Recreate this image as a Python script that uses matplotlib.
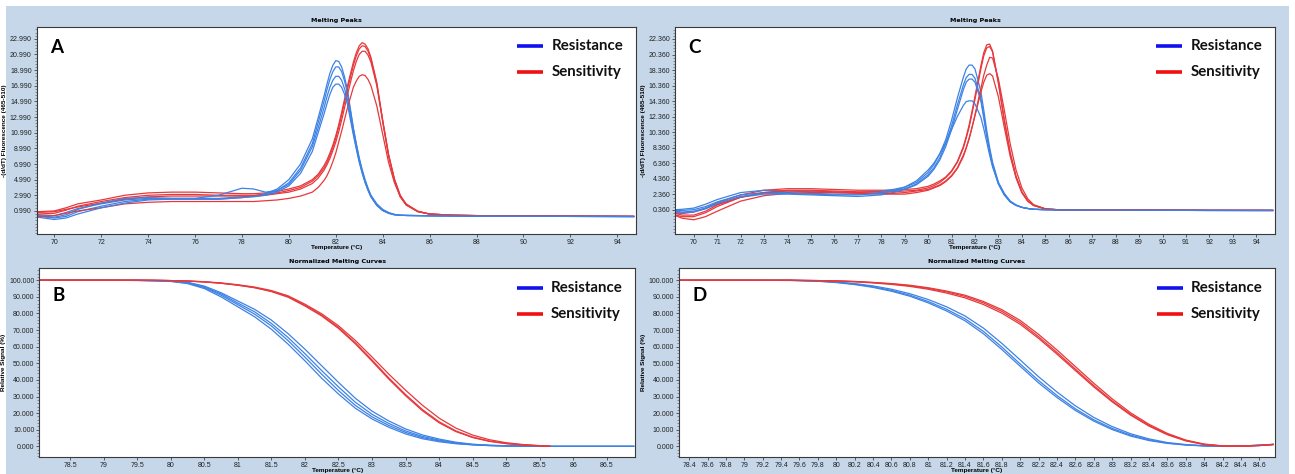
import matplotlib
matplotlib.use("Agg")
import matplotlib.pyplot as plt
from matplotlib.patches import Rectangle
from matplotlib.ticker import FixedLocator, AutoMinorLocator

# ---- data ----
# panel A: melting peaks, -(d/dT) fluorescence
temp_a = [69.3, 70, 70.5, 71, 72, 73, 74, 75, 76, 77, 78, 78.5, 79, 79.5, 80, 80.5, 81, 81.25, 81.5,
          81.625, 81.75, 81.875, 82, 82.125, 82.25, 82.375, 82.5, 82.75, 82.875, 83, 83.125, 83.25, 83.375,
          83.5, 83.75, 84, 84.25, 84.5, 84.75, 85, 85.5, 86, 87, 88, 90, 92, 94.7]
res_a = [
    [0.5, 0.4, 0.8, 1.3, 1.9, 2.4, 2.6, 2.6, 2.6, 2.6, 2.8, 2.9, 3.2, 3.8, 5.0, 7.0, 10.2, 12.9, 15.7,
     17.2, 18.6, 19.6, 20.2, 20.1, 19.4, 18.1, 16.4, 11.6, 9.6, 7.8, 6.3, 5.0, 3.9,
     3.0, 1.9, 1.2, 0.8, 0.55, 0.45, 0.42, 0.4, 0.38, 0.36, 0.34, 0.32, 0.3, 0.28],
    [0.3, 0.1, 0.3, 0.9, 1.6, 2.2, 2.5, 2.5, 2.5, 2.5, 2.7, 2.9, 3.1, 3.6, 4.6, 6.5, 9.6, 12.3, 15.0,
     16.5, 17.8, 18.8, 19.4, 19.4, 18.8, 17.6, 16.0, 11.5, 9.5, 7.6, 6.1, 4.8, 3.8,
     2.9, 1.8, 1.1, 0.75, 0.55, 0.45, 0.42, 0.4, 0.38, 0.36, 0.34, 0.32, 0.3, 0.28],
    [0.4, 0.2, 0.5, 1.2, 2.0, 2.6, 2.7, 2.6, 2.6, 3.0, 3.9, 3.8, 3.4, 3.6, 4.4, 6.2, 9.2, 11.6, 14.2,
     15.6, 16.8, 17.7, 18.2, 18.2, 17.7, 16.6, 15.2, 11.0, 9.1, 7.4, 6.0, 4.7, 3.7,
     2.8, 1.7, 1.05, 0.7, 0.5, 0.45, 0.42, 0.4, 0.38, 0.36, 0.34, 0.32, 0.3, 0.28],
    [0.2, -0.1, 0.1, 0.6, 1.4, 2.0, 2.4, 2.5, 2.5, 2.5, 2.7, 2.8, 3.0, 3.4, 4.2, 5.8, 8.6, 11.0, 13.4,
     14.7, 15.9, 16.8, 17.2, 17.2, 16.8, 15.9, 14.6, 10.7, 8.9, 7.2, 5.8, 4.6, 3.6,
     2.8, 1.7, 1.05, 0.7, 0.5, 0.45, 0.42, 0.4, 0.38, 0.36, 0.34, 0.32, 0.3, 0.28],
]
sen_a = [
    [0.9, 1.0, 1.4, 1.9, 2.4, 3.0, 3.3, 3.4, 3.4, 3.3, 3.2, 3.2, 3.3, 3.5, 3.8, 4.2, 5.0, 5.7, 6.8,
     7.5, 8.4, 9.4, 10.6, 12.0, 13.6, 15.3, 17.0, 20.0, 21.2, 22.1, 22.5, 22.3, 21.7,
     20.6, 17.4, 12.6, 8.2, 5.0, 2.9, 1.8, 0.9, 0.6, 0.45, 0.4, 0.36, 0.33, 0.3],
    [0.6, 0.7, 1.1, 1.6, 2.2, 2.7, 3.0, 3.1, 3.1, 3.0, 3.0, 3.0, 3.1, 3.3, 3.6, 4.0, 4.8, 5.5, 6.5,
     7.2, 8.1, 9.1, 10.3, 11.7, 13.2, 14.9, 16.6, 19.6, 20.8, 21.7, 22.1, 22.0, 21.4,
     20.4, 17.2, 12.4, 8.0, 4.9, 2.8, 1.75, 0.9, 0.6, 0.45, 0.4, 0.36, 0.33, 0.3],
    [0.8, 0.9, 1.2, 1.5, 2.0, 2.5, 2.8, 2.9, 2.9, 2.9, 2.9, 2.9, 3.0, 3.2, 3.4, 3.8, 4.5, 5.2, 6.2,
     6.9, 7.7, 8.7, 9.8, 11.1, 12.6, 14.2, 15.9, 18.9, 20.1, 21.0, 21.4, 21.4, 20.9,
     20.0, 17.0, 12.5, 8.2, 5.1, 3.0, 1.9, 0.95, 0.6, 0.45, 0.4, 0.36, 0.33, 0.3],
    [0.3, 0.4, 0.7, 1.0, 1.4, 1.9, 2.1, 2.2, 2.2, 2.2, 2.2, 2.2, 2.3, 2.4, 2.6, 2.9, 3.4, 4.0, 4.9,
     5.5, 6.3, 7.3, 8.4, 9.8, 11.2, 12.7, 14.2, 16.8, 17.6, 18.2, 18.4, 18.3, 17.8,
     17.0, 14.4, 10.8, 7.2, 4.6, 2.8, 1.8, 0.95, 0.6, 0.45, 0.4, 0.36, 0.33, 0.3],
]

# panel C: melting peaks, second assay
temp_c = [69.25, 69.5, 70, 70.5, 71, 72, 73, 74, 75, 76, 77, 78, 78.5, 79, 79.5, 80, 80.25, 80.5, 80.75, 81,
          81.25, 81.5, 81.625, 81.75, 81.875, 82, 82.25, 82.375, 82.5, 82.625, 82.75, 83, 83.25, 83.5, 83.75,
          84, 84.25, 84.5, 85, 85.5, 86, 88, 90, 92, 94.7]
res_c = [
    [0.4, 0.45, 0.6, 1.1, 1.7, 2.6, 2.9, 2.8, 2.7, 2.6, 2.6, 2.8, 3.0, 3.3, 3.9, 5.2, 6.2, 7.6, 9.4, 11.9,
     14.8, 17.4, 18.5, 19.0, 19.0, 18.5, 15.6, 13.2, 10.6, 8.4, 6.5, 3.9, 2.5, 1.5, 1.0,
     0.7, 0.55, 0.45, 0.4, 0.38, 0.36, 0.34, 0.32, 0.3, 0.3],
    [0.3, 0.3, 0.4, 0.8, 1.4, 2.3, 2.6, 2.6, 2.5, 2.4, 2.4, 2.6, 2.8, 3.1, 3.7, 4.9, 5.8, 7.1, 8.9, 11.2,
     13.9, 16.4, 17.4, 17.8, 17.8, 17.3, 14.7, 12.4, 10.0, 8.0, 6.2, 3.8, 2.4, 1.5, 1.0,
     0.7, 0.55, 0.45, 0.4, 0.38, 0.36, 0.34, 0.32, 0.3, 0.3],
    [0.0, 0.0, 0.1, 0.5, 1.1, 2.0, 2.4, 2.4, 2.3, 2.2, 2.1, 2.3, 2.6, 3.0, 3.6, 4.7, 5.6, 6.8, 8.5, 10.7,
     13.3, 15.8, 16.8, 17.2, 17.2, 16.8, 14.4, 12.2, 9.9, 7.9, 6.1, 3.7, 2.3, 1.4, 0.95,
     0.7, 0.55, 0.45, 0.4, 0.38, 0.36, 0.34, 0.32, 0.3, 0.3],
    [0.2, 0.1, 0.2, 0.6, 1.2, 2.1, 2.5, 2.5, 2.4, 2.3, 2.3, 2.5, 2.8, 3.3, 4.1, 5.5, 6.4, 7.6, 9.0, 10.7,
     12.4, 13.8, 14.3, 14.4, 14.4, 14.0, 12.3, 10.8, 9.1, 7.4, 5.9, 3.7, 2.3, 1.4, 0.95,
     0.7, 0.55, 0.45, 0.4, 0.38, 0.36, 0.34, 0.32, 0.3, 0.3],
]
sen_c = [
    [0.0, -0.1, 0.1, 0.6, 1.3, 2.3, 2.9, 3.1, 3.1, 3.0, 2.9, 2.9, 2.9, 3.0, 3.1, 3.4, 3.7, 4.1, 4.6, 5.4,
     6.6, 8.5, 9.8, 11.3, 13.1, 15.0, 18.9, 20.6, 21.6, 21.7, 20.8, 16.6, 11.8, 7.6, 4.6,
     2.6, 1.5, 0.95, 0.5, 0.4, 0.38, 0.35, 0.33, 0.31, 0.3],
    [-0.3, -0.5, -0.5, 0.0, 0.8, 2.0, 2.6, 2.9, 2.9, 2.8, 2.7, 2.7, 2.7, 2.8, 2.9, 3.2, 3.5, 3.9, 4.5, 5.3,
     6.5, 8.3, 9.6, 11.0, 12.8, 14.6, 18.5, 20.2, 21.2, 21.4, 20.7, 16.8, 12.0, 7.8, 4.7,
     2.7, 1.55, 0.95, 0.5, 0.4, 0.38, 0.35, 0.33, 0.31, 0.3],
    [-0.4, -0.7, -0.9, -0.5, 0.2, 1.5, 2.2, 2.5, 2.6, 2.6, 2.5, 2.4, 2.4, 2.4, 2.6, 2.9, 3.2, 3.5, 4.0, 4.7,
     5.7, 7.2, 8.3, 9.5, 11.0, 12.6, 16.0, 17.7, 19.0, 20.0, 19.9, 17.2, 13.2, 8.9, 5.5,
     3.2, 1.8, 1.05, 0.5, 0.4, 0.38, 0.35, 0.33, 0.31, 0.3],
    [-0.1, -0.3, -0.3, 0.2, 1.0, 2.0, 2.6, 2.8, 2.8, 2.7, 2.6, 2.5, 2.5, 2.6, 2.8, 3.0, 3.3, 3.6, 4.1, 4.8,
     5.8, 7.4, 8.4, 9.6, 11.0, 12.5, 15.5, 16.8, 17.7, 17.9, 17.6, 14.9, 11.0, 7.3, 4.5,
     2.6, 1.5, 0.95, 0.5, 0.4, 0.38, 0.35, 0.33, 0.31, 0.3],
]

# panel B: normalized melting curves (red ones stop at 85.65)
temp_b = [78.05, 79, 79.5, 79.75, 80, 80.25, 80.5, 80.75, 81, 81.25, 81.5, 81.75, 82, 82.25, 82.5, 82.75,
          83, 83.25, 83.5, 83.75, 84, 84.25, 84.5, 84.75, 85, 85.25, 85.5, 85.65, 86, 86.9]
res_b = [
    [100, 100, 99.9, 99.7, 99.3, 98.0, 95.0, 90.0, 84.0, 78.0, 70.5, 61.5, 51.5, 41.0, 31.5, 23.0,
     16.5, 11.5, 7.5, 4.6, 2.8, 1.6, 0.9, 0.45, 0.2, 0.1, 0.05, 0, 0, 0],
    [100, 100, 99.9, 99.7, 99.4, 98.3, 95.6, 91.0, 85.3, 79.6, 72.5, 63.6, 53.7, 43.4, 33.6, 24.7,
     17.8, 12.6, 8.4, 5.3, 3.3, 1.8, 1.0, 0.5, 0.25, 0.1, 0.05, 0, 0, 0],
    [100, 100, 99.9, 99.8, 99.6, 98.6, 96.0, 91.8, 86.3, 81.0, 74.0, 65.5, 55.8, 45.6, 35.8, 26.6,
     19.3, 13.8, 9.3, 6.0, 3.8, 2.1, 1.1, 0.6, 0.3, 0.1, 0.05, 0, 0, 0],
    [100, 100, 100, 99.8, 99.6, 98.8, 96.5, 92.5, 87.5, 82.5, 76.0, 67.8, 58.5, 48.5, 38.5, 29.0,
     21.2, 15.3, 10.5, 6.9, 4.4, 2.5, 1.3, 0.7, 0.35, 0.15, 0.05, 0, 0, 0],
]
sen_b = [
    [100, 100, 100, 100, 99.8, 99.5, 99.0, 98.2, 97.0, 95.5, 93.2, 89.8, 84.5, 78.5, 71.0, 61.8,
     51.3, 40.5, 30.5, 21.5, 14.2, 8.9, 5.3, 3.0, 1.6, 0.8, 0.3, 0.1],
    [100, 100, 100, 100, 99.8, 99.5, 99.0, 98.2, 97.1, 95.6, 93.4, 90.1, 85.0, 79.0, 71.6, 62.4,
     52.0, 41.2, 31.2, 22.2, 14.8, 9.3, 5.6, 3.2, 1.8, 0.9, 0.35, 0.1],
    [100, 100, 100, 100, 99.8, 99.6, 99.1, 98.4, 97.3, 95.9, 93.8, 90.6, 85.6, 79.8, 72.6, 63.8,
     53.8, 43.5, 33.8, 24.8, 17.0, 11.0, 6.8, 4.0, 2.2, 1.1, 0.45, 0.1],
]

# panel D: normalized melting curves, second assay
temp_d = [78.3, 79, 79.5, 79.8, 80, 80.2, 80.4, 80.6, 80.8, 81, 81.2, 81.4, 81.6, 81.8, 82, 82.2, 82.4,
          82.6, 82.8, 83, 83.2, 83.4, 83.6, 83.8, 84, 84.2, 84.4, 84.6, 84.75]
res_d = [
    [100, 100, 99.9, 99.4, 98.6, 97.4, 95.7, 93.4, 90.4, 86.4, 81.5, 75.6, 67.8, 58.3, 48.2, 38.2, 29.4,
     21.6, 15.2, 10.1, 6.2, 3.5, 1.8, 0.8, 0.25, 0.05, 0.2, 0.7, 1.2],
    [100, 100, 99.9, 99.5, 98.8, 97.7, 96.1, 93.9, 91.0, 87.2, 82.5, 76.8, 69.2, 59.8, 49.6, 39.6, 30.6,
     22.6, 16.0, 10.8, 6.8, 3.9, 2.0, 0.9, 0.3, 0.1, 0.2, 0.7, 1.2],
    [100, 100, 100, 99.6, 99.0, 98.0, 96.6, 94.6, 91.9, 88.4, 84.0, 78.5, 71.2, 62.0, 52.0, 41.9, 32.7,
     24.4, 17.4, 11.9, 7.6, 4.5, 2.3, 1.1, 0.4, 0.1, 0.2, 0.7, 1.2],
]
sen_d = [
    [100, 100, 100, 99.8, 99.6, 99.2, 98.6, 97.8, 96.7, 95.1, 93.0, 90.3, 86.4, 81.3, 74.6, 66.0, 56.5,
     46.5, 36.6, 27.4, 19.3, 12.6, 7.3, 3.5, 1.2, 0.2, 0.1, 0.5, 1.1],
    [100, 100, 100, 99.8, 99.6, 99.3, 98.7, 98.0, 97.0, 95.5, 93.5, 91.0, 87.2, 82.3, 75.8, 67.4, 58.0,
     48.0, 38.0, 28.6, 20.2, 13.3, 7.8, 3.8, 1.4, 0.3, 0.1, 0.5, 1.1],
    [100, 100, 100, 99.8, 99.5, 99.1, 98.4, 97.5, 96.3, 94.6, 92.3, 89.4, 85.4, 80.2, 73.5, 65.0, 55.5,
     45.6, 35.8, 26.8, 18.8, 12.2, 7.0, 3.3, 1.1, 0.2, 0.1, 0.5, 1.1],
]

# tick values / labels
xticks_a = [70, 72, 74, 76, 78, 80, 82, 84, 86, 88, 90, 92, 94]
yticks_a = [0.99, 2.99, 4.99, 6.99, 8.99, 10.99, 12.99, 14.99, 16.99, 18.99, 20.99, 22.99]
xticks_c = list(range(70, 95))
yticks_c = [0.36, 2.36, 4.36, 6.36, 8.36, 10.36, 12.36, 14.36, 16.36, 18.36, 20.36, 22.36]
xticks_b = [78.5, 79, 79.5, 80, 80.5, 81, 81.5, 82, 82.5, 83, 83.5, 84, 84.5, 85, 85.5, 86, 86.5]
xticks_d = [78.4, 78.6, 78.8, 79, 79.2, 79.4, 79.6, 79.8, 80, 80.2, 80.4, 80.6, 80.8, 81, 81.2, 81.4,
            81.6, 81.8, 82, 82.2, 82.4, 82.6, 82.8, 83, 83.2, 83.4, 83.6, 83.8, 84, 84.2, 84.4, 84.6]
yticks_norm = [0, 10, 20, 30, 40, 50, 60, 70, 80, 90, 100]
legend_labels = ["Resistance", "Sensitivity"]

# ---- styling ----
BG = "#c5d7e9"
BLUE = "#3d82e4"
RED = "#e6393c"
W, H = 1295, 474
narrow = ["Liberation Sans Narrow", "Liberation Sans", "DejaVu Sans"]

fig = plt.figure(figsize=(W / 100, H / 100), dpi=100, facecolor="white")
fig.patches.append(Rectangle((6 / W, 0), (W - 12) / W, (H - 6) / H, transform=fig.transFigure,
                             facecolor=BG, edgecolor="none", zorder=-10))


def px_axes(left, top, right, bottom):
    return fig.add_axes([left / W, 1 - bottom / H, (right - left) / W, (bottom - top) / H])


def style(ax, xt, yt, yfmt, xlim, ylim, title, ylabel, letter, letter_y, leg_y):
    ax.set_facecolor("white")
    for s in ax.spines.values():
        s.set_color("#3a3a3a")
        s.set_linewidth(0.8)
    ax.set_xlim(*xlim)
    ax.set_ylim(*ylim)
    ax.xaxis.set_major_locator(FixedLocator(xt))
    ax.set_xticklabels(["%g" % t for t in xt])
    ax.yaxis.set_major_locator(FixedLocator(yt))
    ax.set_yticklabels([yfmt % t for t in yt])
    ax.yaxis.set_minor_locator(AutoMinorLocator(5))
    ax.tick_params(axis="both", which="major", labelsize=5, length=2.5, width=0.6,
                   color="#444444", pad=1.0, labelcolor="#222222")
    ax.tick_params(axis="y", which="minor", length=1.2, width=0.5, color="#666666")
    for lab in ax.get_xticklabels() + ax.get_yticklabels():
        lab.set_family(narrow)
    ax.set_title(title, fontsize=4.6, fontweight="bold", pad=3.5, family="DejaVu Sans")
    ax.set_xlabel("Temperature (\u00b0C)", fontsize=4.6, fontweight="bold", labelpad=-0.5, family=narrow)
    ax.set_ylabel(ylabel, fontsize=4.6, fontweight="bold", labelpad=2, family=narrow)
    ax.text(0.022, letter_y, letter, transform=ax.transAxes, fontsize=13.5, fontweight="bold",
            family=["Lato", "DejaVu Sans"], va="baseline", ha="left")
    for lab, col, yy in zip(legend_labels, ["#1010f0", "#f01010"], leg_y):
        ax.plot([0.8015, 0.8455], [yy, yy], transform=ax.transAxes, color=col, lw=2.6,
                solid_capstyle="butt", clip_on=False)
        ax.text(0.859, yy, lab, transform=ax.transAxes, fontsize=10.8, fontweight="bold",
                family=["Lato", "DejaVu Sans"], va="center", ha="left", color="#111111")


# A
ax_a = px_axes(36.5, 27, 636, 234)
for r, s in zip(res_a, sen_a):
    ax_a.plot(temp_a, s, color=RED, lw=0.9)
    ax_a.plot(temp_a, r, color=BLUE, lw=0.9)
style(ax_a, xticks_a, yticks_a, "%.3f", (69.24, 94.8), (-1.95, 24.5), "Melting Peaks",
      "-(d/dT) Fluorescence (465-510)", "A", 0.876, [0.908, 0.783])

# C
ax_c = px_axes(675, 27, 1275, 234)
for r, s in zip(res_c, sen_c):
    ax_c.plot(temp_c, s, color=RED, lw=0.9)
    ax_c.plot(temp_c, r, color=BLUE, lw=0.9)
style(ax_c, xticks_c, yticks_c, "%.3f", (69.2, 94.8), (-2.73, 23.9), "Melting Peaks",
      "-(d/dT) Fluorescence (465-510)", "C", 0.876, [0.908, 0.783])

# B
ax_b = px_axes(39.3, 268.3, 635, 457)
for r in res_b:
    ax_b.plot(temp_b, r, color=BLUE, lw=0.9)
for s in sen_b:
    ax_b.plot(temp_b[:len(s)], s, color=RED, lw=0.9)
style(ax_b, xticks_b, yticks_norm, "%.3f", (78.04, 86.92), (-6.4, 107.2), "Normalized Melting Curves",
      "Relative Signal (%)", "B", 0.828, [0.897, 0.756])

# D
ax_d = px_axes(679, 268.3, 1275, 457)
for r in res_d:
    ax_d.plot(temp_d, r, color=BLUE, lw=0.9)
for s in sen_d:
    ax_d.plot(temp_d, s, color=RED, lw=0.9)
style(ax_d, xticks_d, yticks_norm, "%.3f", (78.29, 84.77), (-6.4, 107.2), "Normalized Melting Curves",
      "Relative Signal (%)", "D", 0.828, [0.897, 0.756])

fig.savefig("out.png", dpi=100)
